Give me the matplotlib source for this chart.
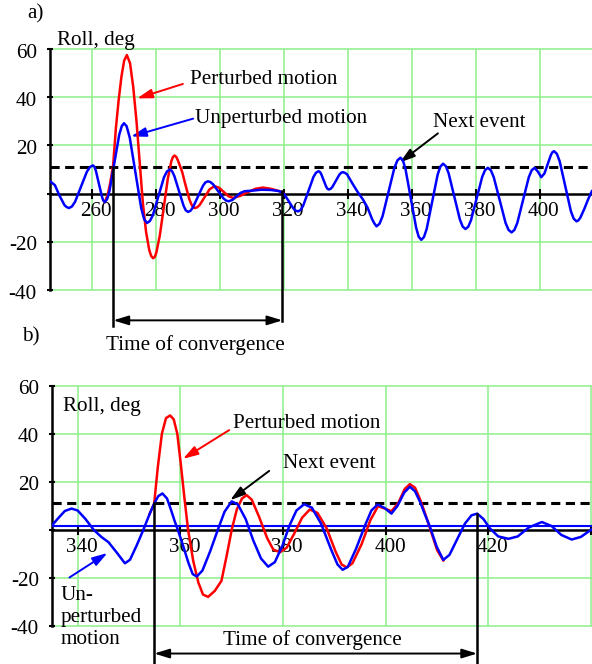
import matplotlib
matplotlib.use('Agg')
import matplotlib.pyplot as plt

# ---------------------------------------------------------------------------
# Data (time, roll in deg)
# ---------------------------------------------------------------------------
# a) unperturbed motion
blue_a = [(247.0, 5.1), (248.5, 3.5), (250.0, -1.0), (251.5, -4.8), (252.16, -5.58),
          (252.9, -6.0), (253.84, -5.33), (254.8, -3.4), (256.65, 2.85), (258.5, 9.1),
          (259.46, 11.03), (260.4, 11.7), (260.86, 11.12), (261.3, 9.5), (262.25, 4.1),
          (263.2, -1.3), (263.64, -2.92), (264.1, -3.5), (264.85, -2.26), (265.6, 1.3),
          (267.1, 12.85), (268.6, 24.4), (269.4, 28.0), (270.1, 29.2), (270.9, 28.0),
          (271.9, 23.2), (273.7, 8.5), (275.5, -6.2), (276.4, -10.63), (277.3, -12.2),
          (278.19, -11.36), (279.1, -9.0), (280.85, -1.1), (282.6, 6.8), (283.51, 9.16),
          (284.4, 10.0), (285.11, 9.33), (285.8, 7.4), (287.25, 1.2), (288.7, -5.0),
          (289.39, -6.93), (290.1, -7.6), (290.88, -7.12), (291.65, -5.7), (293.2, -1.25),
          (294.75, 3.2), (295.52, 4.62), (296.3, 5.1), (297.11, 4.78), (297.9, 3.9),
          (299.55, 0.95), (301.2, -2.0), (301.99, -2.88), (302.8, -3.2), (304.0, -2.6),
          (305.3, -1.1), (306.5, 0.3), (307.8, 1.0), (310.0, 1.2), (313.0, 1.6),
          (316.0, 1.5), (318.7, 1.0), (320.15, -0.2), (321.6, -3.2), (323.05, -6.2),
          (323.78, -7.08), (324.5, -7.4), (325.3, -6.77), (326.1, -5.0), (327.7, 0.95),
          (329.3, 6.9), (330.1, 8.67), (330.9, 9.3), (331.3, 9.01), (331.7, 8.2),
          (332.5, 5.5), (333.3, 2.8), (333.7, 1.99), (334.1, 1.7), (334.65, 1.97),
          (335.2, 2.75), (336.3, 5.3), (337.4, 7.85), (337.95, 8.63), (338.5, 8.9),
          (339.15, 8.6), (339.8, 8.0), (341.7, 3.7), (343.2, 0.5), (344.8, -2.5),
          (346.2, -5.8), (347.6, -10.5), (348.3, -12.3), (349.0, -13.6), (349.94, -12.52),
          (350.9, -9.4), (352.75, 0.65), (354.6, 10.7), (355.56, 13.82), (356.5, 14.9),
          (357.31, 13.6), (358.1, 9.9), (359.75, -2.15), (361.4, -14.2), (362.19, -17.9),
          (363.0, -19.2), (363.85, -18.0), (364.7, -14.6), (366.4, -3.4), (368.1, 7.8),
          (368.95, 11.2), (369.8, 12.4), (370.68, 11.37), (371.55, 8.4), (373.3, -1.15),
          (375.05, -10.7), (375.93, -13.67), (376.8, -14.7), (377.68, -13.73), (378.55, -11.0),
          (380.3, -2.0), (382.05, 7.0), (382.93, 9.73), (383.8, 10.7), (384.73, 9.68),
          (385.65, 6.8), (387.5, -2.7), (389.35, -12.2), (390.28, -15.08), (391.2, -16.1),
          (392.1, -15.08), (393.0, -12.2), (394.8, -2.7), (396.6, 6.8), (397.5, 9.68),
          (398.4, 10.7), (399.5, 9.0), (400.5, 6.8), (401.5, 8.4), (402.5, 12.2),
          (403.5, 16.0), (404.0, 17.2), (404.5, 17.6), (405.38, 16.5), (406.25, 13.4),
          (408.0, 3.05), (409.75, -7.3), (410.63, -10.4), (411.5, -11.5), (412.1, -11.1),
          (412.7, -10.0), (413.9, -6.5), (415.1, -2.5), (416.3, 1.0)]

# a) perturbed motion (only where it leaves the unperturbed one)
red_a = [(264.1, -3.5), (265.0, -0.5), (265.8, 4.5), (266.7, 11.7), (267.55, 27.0),
         (268.4, 38.5), (269.3, 48.6), (270.15, 55.2), (271.0, 57.5), (272.0, 54.0),
         (273.0, 44.0), (274.0, 30.0), (275.0, 13.0), (276.0, -4.0), (277.0, -16.0),
         (278.0, -23.5), (278.6, -25.9), (279.2, -26.8), (279.7, -26.3), (280.2, -24.5),
         (281.3, -17.3), (282.55, -5.5), (283.8, 6.3), (284.9, 13.5), (285.4, 15.2),
         (285.9, 15.8), (286.45, 15.2), (287.0, 13.6), (288.3, 8.9), (289.05, 4.9),
         (290.5, -2.3), (291.3, -4.9), (291.75, -5.7), (292.2, -6.0), (292.95, -5.7),
         (293.75, -4.7), (295.3, -1.45), (296.85, 1.8), (298.4, 3.1), (299.85, 2.4),
         (301.3, 0.65), (302.75, -1.1), (304.2, -1.8), (306.5, -0.9), (308.8, 0.6),
         (311.2, 2.0), (313.5, 2.5), (316.0, 2.0), (318.7, 1.0), (320.15, -0.2)]

# b) unperturbed motion
blue_b = [(335.0, 1.8), (336.3, 5.0), (337.5, 7.8), (338.8, 8.8), (340.0, 8.0),
          (341.5, 4.5), (343.1, 0.0), (344.6, -3.0), (346.0, -5.2), (347.6, -9.5),
          (349.2, -14.0), (350.2, -12.5), (351.5, -6.5), (352.8, 0.0), (354.0, 6.5),
          (354.9, 10.9), (355.7, 14.0), (356.5, 15.1), (357.4, 13.0), (358.2, 8.1),
          (358.9, 3.5), (359.5, 0.0), (360.5, -6.5), (361.6, -14.0), (362.4, -18.5),
          (363.2, -19.5), (364.3, -17.0), (365.8, -9.0), (367.3, 0.0), (368.6, 7.5),
          (370.0, 11.8), (371.2, 10.5), (372.7, 4.5), (374.2, -4.5), (375.7, -12.0),
          (377.1, -15.4), (378.4, -13.5), (379.9, -6.5), (381.2, 1.5), (382.6, 8.0),
          (384.1, 10.6), (385.6, 9.2), (387.4, 2.5), (389.4, -8.5), (390.6, -14.5),
          (391.6, -16.7), (392.6, -15.5), (394.2, -8.0), (396.0, 2.0), (397.2, 8.0),
          (398.4, 10.5), (399.8, 9.0), (401.1, 6.7), (402.3, 10.0), (403.6, 15.5),
          (404.7, 17.9), (405.7, 16.0), (406.7, 11.5), (407.5, 7.0), (408.6, 1.2),
          (409.9, -7.0), (411.2, -12.6), (412.4, -10.5), (413.9, -4.0), (415.4, 2.5),
          (416.7, 6.0), (417.8, 6.7), (419.0, 4.5), (420.3, 0.5), (421.9, -2.8),
          (423.9, -3.8), (425.7, -2.8), (427.9, 1.0), (430.4, 3.2), (432.3, 1.5),
          (434.2, -2.2), (436.2, -4.1), (438.0, -3.0), (440.2, 0.3)]

# b) perturbed motion
red_b = [(354.0, 6.5), (354.9, 10.9), (355.6, 26.0), (356.4, 40.0), (357.2, 46.5),
         (358.0, 47.6), (358.7, 46.0), (359.4, 40.0), (360.1, 27.0), (360.8, 13.0),
         (361.5, 0.0), (362.5, -13.0), (363.5, -22.0), (364.4, -27.0), (365.4, -28.0),
         (366.7, -25.5), (368.0, -21.3), (369.0, -11.0), (370.0, 0.0), (371.0, 8.5),
         (372.0, 13.0), (372.9, 14.4), (373.9, 12.5), (375.3, 5.5), (376.9, -3.5),
         (378.1, -8.3), (379.4, -9.4), (380.7, -7.5), (382.2, -1.5), (383.7, 5.0),
         (385.2, 8.4), (386.7, 7.0), (388.5, 0.5), (390.2, -9.0), (391.4, -14.5),
         (392.4, -15.7), (393.5, -14.0), (395.3, -6.0), (397.0, 4.0), (398.5, 9.8),
         (399.8, 8.8), (401.1, 7.7), (402.4, 11.0), (403.7, 17.0), (404.7, 19.0),
         (405.7, 17.5), (406.8, 12.0), (407.7, 6.5), (408.7, 0.0), (410.0, -8.5),
         (411.2, -12.8)]

# thresholds / event marks
THRESH_A = 11.2
THRESH_B = 11.0
BASE_B = 1.5
CONV_A = (266.75, 319.6)
CONV_B = (354.9, 417.8)
YTICKS = [-40, -20, 20, 40, 60]
XTICKS_A = [260, 280, 300, 320, 340, 360, 380, 400]
XTICKS_B = [340, 360, 380, 400, 420, 440]

# ---------------------------------------------------------------------------
plt.rcParams['font.family'] = 'serif'
plt.rcParams['font.serif'] = ['Liberation Serif', 'DejaVu Serif']
FS = 15.2
GRID = '#8cf08c'
W, H = 592, 664

fig = plt.figure(figsize=(W / 100, H / 100), dpi=100)


def px_box(x0, y0, x1, y1):
    return [x0 / W, 1 - y1 / H, (x1 - x0) / W, (y1 - y0) / H]


def fig_xy(px, py):
    return px / W, 1 - py / H


def setup(ax, xlim, xticks, xlabels):
    ax.set_xlim(*xlim)
    ax.set_ylim(-40, 60)
    for s in ('top', 'right'):
        ax.spines[s].set_visible(False)
    ax.spines['left'].set_linewidth(1.8)
    ax.spines['bottom'].set_position(('data', 0))
    ax.spines['bottom'].set_linewidth(1.8)
    ax.set_xticks(xticks)
    ax.set_yticks(YTICKS + [0])
    ax.tick_params(axis='x', direction='inout', length=7, width=1.5,
                   labelbottom=False)
    ax.tick_params(axis='y', direction='inout', length=5, width=1.5,
                   labelleft=False)
    for v in xticks:
        ax.axvline(v, color=GRID, lw=1.1, zorder=0.5)
    for v in YTICKS:
        ax.axhline(v, color=GRID, lw=1.1, zorder=0.5, clip_on=False)
    for v, lab in zip(xticks, xlabels):
        ax.annotate(lab, xy=(v, 0), xytext=(3, -6), textcoords='offset points',
                    ha='center', va='top', fontsize=FS, zorder=2)
    for v in YTICKS:
        ax.annotate(str(v), xy=(0, v), xycoords=('axes fraction', 'data'),
                    xytext=(-9.5, -3), textcoords='offset points',
                    ha='right', va='center', fontsize=FS, annotation_clip=False)


def arrow(ax, tail, tip, color, style='-|>'):
    ax.annotate('', xy=tip, xytext=tail, annotation_clip=False,
                arrowprops=dict(arrowstyle=style + ',head_length=0.65,head_width=0.2',
                                color=color, lw=1.4, shrinkA=0, shrinkB=0,
                                mutation_scale=14))


# ------------------------------ panel a ------------------------------------
ax = fig.add_axes(px_box(50, 49, 592, 290))
setup(ax, (246.97, 416.35), XTICKS_A, [str(v) for v in XTICKS_A])
ax.axhline(THRESH_A, color='k', lw=2.2, dashes=(3, 1.8), zorder=3)
t, y = zip(*red_a)
ax.plot(t, y, color='red', lw=1.8, zorder=4)
t, y = zip(*blue_a)
ax.plot(t, y, color='blue', lw=1.8, zorder=5)

ax.plot([CONV_A[0]] * 2, [THRESH_A, -55.1], color='k', lw=1.8, clip_on=False, zorder=6)
ax.plot([CONV_A[1]] * 2, [1.0, -52.7], color='k', lw=1.8, clip_on=False, zorder=6)
arrow(ax, (CONV_A[0], -52.6), (CONV_A[1], -52.6), 'k', '<|-|>')
ax.text(sum(CONV_A) / 2 - 0.9, -62.7, 'Time of convergence', ha='center', va='center',
        fontsize=FS, clip_on=False)

ax.text(290.7, 47.5, 'Perturbed motion', ha='left', va='center', fontsize=FS)
arrow(ax, (288.5, 45.5), (274.2, 39.5), 'red')
ax.text(292.3, 31.3, 'Unperturbed motion', ha='left', va='center', fontsize=FS)
arrow(ax, (291.7, 31.1), (272.3, 23.7), 'blue')
ax.text(366.6, 29.5, 'Next event', ha='left', va='center', fontsize=FS)
arrow(ax, (368.2, 25.0), (356.3, 12.9), 'k')

fig.text(*fig_xy(27, 14), 'a)', ha='left', va='center', fontsize=FS)
fig.text(*fig_xy(57, 41), 'Roll, deg', ha='left', va='center', fontsize=FS)

# ------------------------------ panel b ------------------------------------
ax = fig.add_axes(px_box(52, 385.7, 592, 625.7))
setup(ax, (335.0, 440.16), XTICKS_B, [str(v) for v in XTICKS_B[:-1]] + [''])
ax.axhline(THRESH_B, color='k', lw=2.2, dashes=(3, 1.8), zorder=3)
ax.axhline(BASE_B, color='blue', lw=1.5, zorder=3)
t, y = zip(*red_b)
ax.plot(t, y, color='red', lw=1.8, zorder=4)
t, y = zip(*blue_b)
ax.plot(t, y, color='blue', lw=1.8, zorder=5)

ax.plot([CONV_B[0]] * 2, [THRESH_B, -57], color='k', lw=1.8, clip_on=False, zorder=6)
ax.plot([CONV_B[1]] * 2, [6.7, -57], color='k', lw=1.8, clip_on=False, zorder=6)
arrow(ax, (CONV_B[0], -51.6), (CONV_B[1], -51.6), 'k', '<|-|>')
ax.text(385.8, -46.0, 'Time of convergence', ha='center', va='center',
        fontsize=FS, clip_on=False)

ax.text(370.2, 44.4, 'Perturbed motion', ha='left', va='center', fontsize=FS)
arrow(ax, (369.5, 41.5), (360.5, 29.5), 'red')
ax.text(380.0, 27.7, 'Next event', ha='left', va='center', fontsize=FS)
arrow(ax, (377.3, 24.5), (369.7, 12.3), 'k')
ax.text(336.6, -36.5, 'Un-\nperturbed\nmotion', ha='left', va='center',
        fontsize=FS, linespacing=1.2, clip_on=False)
arrow(ax, (338.4, -19.9), (345.8, -9.7), 'blue')

fig.text(*fig_xy(22, 337), 'b)', ha='left', va='center', fontsize=FS)
fig.text(*fig_xy(63, 406), 'Roll, deg', ha='left', va='center', fontsize=FS)

fig.savefig('out.png', dpi=100)
